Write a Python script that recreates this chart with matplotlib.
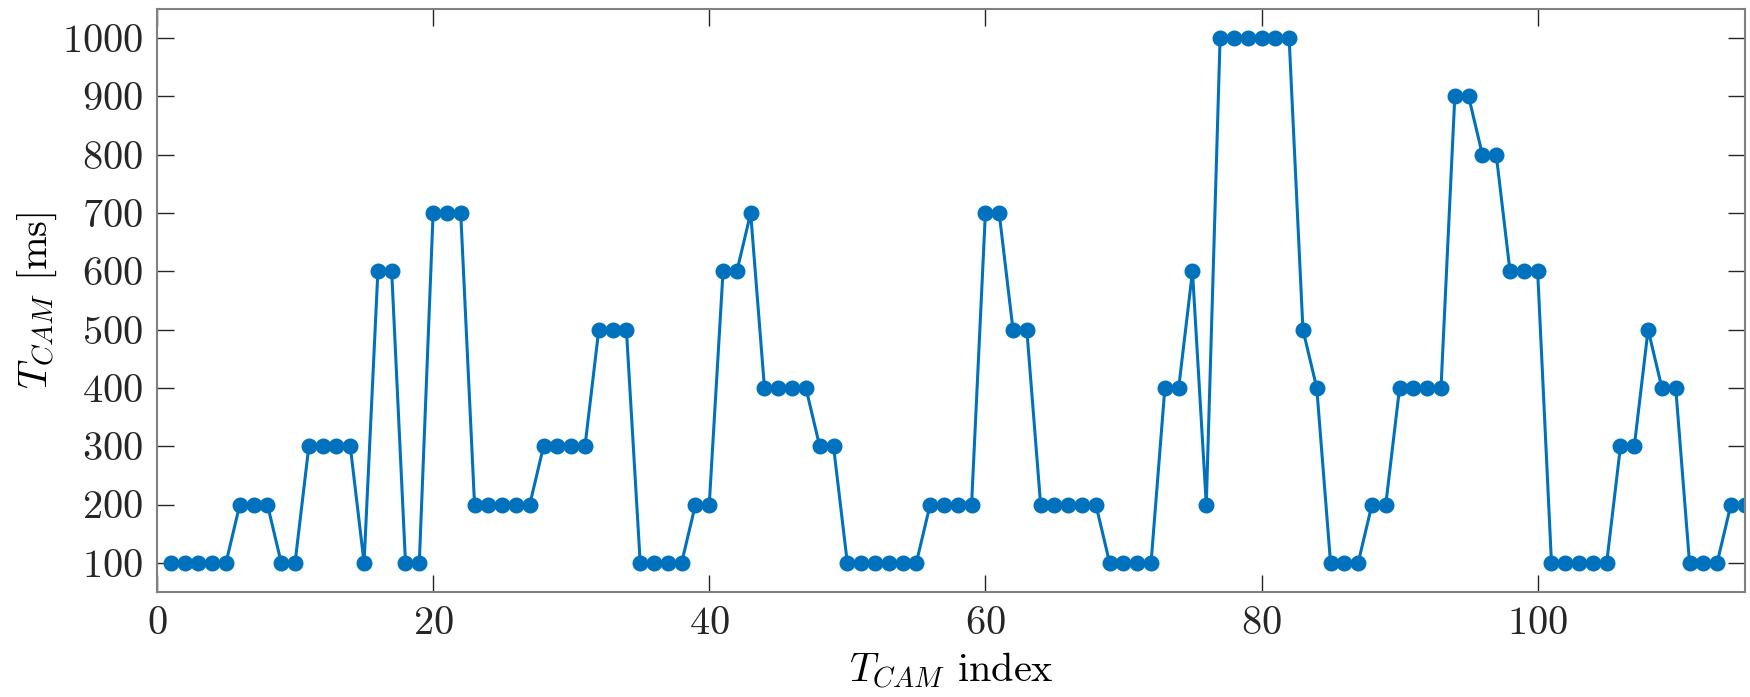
import numpy as np
import matplotlib
matplotlib.use('Agg')
import matplotlib.pyplot as plt

# camera period per index
t_cam = [100, 100, 100, 100, 100, 200, 200, 200, 100, 100,
         300, 300, 300, 300, 100, 600, 600, 100, 100, 700,
         700, 700, 200, 200, 200, 200, 200, 300, 300, 300,
         300, 500, 500, 500, 100, 100, 100, 100, 200, 200,
         600, 600, 700, 400, 400, 400, 400, 300, 300, 100,
         100, 100, 100, 100, 100, 200, 200, 200, 200, 700,
         700, 500, 500, 200, 200, 200, 200, 200, 100, 100,
         100, 100, 400, 400, 600, 200, 1000, 1000, 1000, 1000,
         1000, 1000, 500, 400, 100, 100, 100, 200, 200, 400,
         400, 400, 400, 900, 900, 800, 800, 600, 600, 600,
         100, 100, 100, 100, 100, 300, 300, 500, 400, 400,
         100, 100, 100, 200, 200]
idx = np.arange(1, len(t_cam) + 1)

x_ticks = [0, 20, 40, 60, 80, 100]
y_ticks = [100, 200, 300, 400, 500, 600, 700, 800, 900, 1000]

plt.rcParams['font.family'] = 'cmr10'
plt.rcParams['mathtext.fontset'] = 'cm'
plt.rcParams['axes.formatter.use_mathtext'] = True

fig = plt.figure(figsize=(17.5, 6.97), dpi=100)
ax = fig.add_axes([0.0897, 0.1507, 0.9073, 0.8363])

ax.plot(idx, t_cam, '-o', color='#0072BD', linewidth=2.2, markersize=10.5)

ax.set_xlim(0, 115)
ax.set_ylim(50, 1050)
ax.set_xticks(x_ticks)
ax.set_yticks(y_ticks)

ax.tick_params(direction='in', length=12, width=1.0, colors='#262626',
               labelsize=29, top=True, right=True, pad=10)
for s in ax.spines.values():
    s.set_color('#808080')
    s.set_linewidth(1.5)

ax.set_xlabel(r'$T_{CAM}$ index', fontsize=29, labelpad=6)
ax.set_ylabel(r'$T_{CAM}$ [ms]', fontsize=29, labelpad=2)

fig.savefig('out.png', dpi=100)
